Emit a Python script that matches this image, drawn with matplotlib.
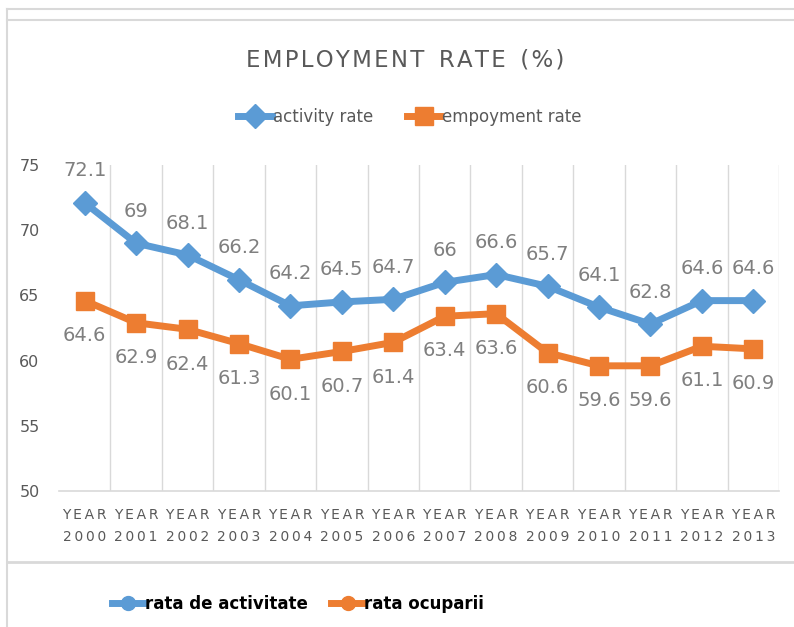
"""Employment and activity rate line chart, 2000-2013."""
import matplotlib
matplotlib.use("Agg")
import matplotlib.pyplot as plt
from matplotlib.lines import Line2D
import numpy as np

years = list(range(2000, 2014))
activity_rate = [72.1, 69, 68.1, 66.2, 64.2, 64.5, 64.7, 66, 66.6, 65.7, 64.1, 62.8, 64.6, 64.6]
employment_rate = [64.6, 62.9, 62.4, 61.3, 60.1, 60.7, 61.4, 63.4, 63.6, 60.6, 59.6, 59.6, 61.1, 60.9]
y_ticks = [50, 55, 60, 65, 70, 75]

BLUE = "#5B9BD5"
ORANGE = "#ED7D31"
GRID = "#D9D9D9"
TEXT = "#595959"
NARROW = ["DejaVu Sans Condensed", "Liberation Sans Narrow", "DejaVu Sans"]

W, H = 794, 627
fig = plt.figure(figsize=(W / 100, H / 100), dpi=100)


def px_box(x0, y0, x1, y1):
    """Pixel box (top-left origin) to figure fraction rect."""
    return [x0 / W, 1 - y1 / H, (x1 - x0) / W, (y1 - y0) / H]


def spaced(s, sep="\u2009"):
    return sep.join(s)


# frame lines around the chart area
frame = fig.add_axes([0, 0, 1, 1], zorder=-1)
frame.set_xlim(0, W)
frame.set_ylim(H, 0)
frame.axis("off")
frame.plot([7, W], [9, 9], color=GRID, lw=1.5)
frame.plot([7, W], [20, 20], color=GRID, lw=1.5)
frame.plot([7, 7], [9, H], color=GRID, lw=1.5)
frame.plot([7, W], [562, 562], color=GRID, lw=2)

ax = fig.add_axes(px_box(59, 165, 779, 491))
x = np.arange(len(years))

la, = ax.plot(x, activity_rate, color=BLUE, lw=5, marker="D", ms=12,
              solid_joinstyle="round", label="activity rate", zorder=3)
le, = ax.plot(x, employment_rate, color=ORANGE, lw=5, marker="s", ms=13,
              solid_joinstyle="round", label="empoyment rate", zorder=3)

for xi, v in zip(x, activity_rate):
    ax.annotate(f"{v:g}", (xi, v), xytext=(0, 23), textcoords="offset points",
                ha="center", va="center", fontsize=14, color="#7F7F7F", family=NARROW)
for xi, v in zip(x, employment_rate):
    ax.annotate(f"{v:g}", (xi, v), xytext=(0, -25), textcoords="offset points",
                ha="center", va="center", fontsize=14, color="#7F7F7F", family=NARROW)

ax.set_xlim(-0.5, len(years) - 0.5)
ax.set_ylim(50, 75)
ax.set_yticks(y_ticks)
ax.set_yticklabels([str(t) for t in y_ticks], fontsize=11.5, color=TEXT, family=NARROW)

# vertical gridlines between categories
for b in np.arange(0.5, len(years) - 0.5, 1.0):
    ax.axvline(b, color=GRID, lw=1, zorder=1)
ax.axvline(len(years) - 0.5, color=GRID, lw=1, zorder=1)

ax.set_xticks(x)
ax.set_xticklabels([spaced("YEAR") + "\n" + spaced(str(y)) for y in years],
                   fontsize=10, color=TEXT, family=NARROW, linespacing=1.8)
ax.tick_params(axis="x", length=0, pad=12)
ax.tick_params(axis="y", length=0, pad=14)
for side in ("top", "right", "left"):
    ax.spines[side].set_visible(False)
ax.spines["bottom"].set_color(GRID)
ax.spines["bottom"].set_linewidth(1.2)

title = "  ".join(spaced(w, "\u200a") for w in ["EMPLOYMENT", "RATE", "(%)"])
fig.text(405 / W, 1 - 60 / H, title, ha="center", va="center",
         fontsize=16.5, color=TEXT, family=NARROW)

fig.legend(handles=[la, le], loc="center", bbox_to_anchor=(410 / W, 1 - 117 / H),
           ncol=2, frameon=False, prop={"family": NARROW, "size": 12},
           handlelength=2.0, handletextpad=0.1, columnspacing=2.0, labelcolor=TEXT)

bottom_handles = [
    Line2D([], [], color=BLUE, lw=5, marker="o", ms=10, label="rata de activitate"),
    Line2D([], [], color=ORANGE, lw=5, marker="o", ms=10, label="rata ocuparii"),
]
fig.legend(handles=bottom_handles, loc="center", bbox_to_anchor=(298 / W, 1 - 604 / H),
           ncol=2, frameon=False, prop={"family": NARROW, "size": 12, "weight": "bold"},
           handlelength=2.0, handletextpad=0.0, columnspacing=1.4)

fig.savefig("out.png", dpi=100)
